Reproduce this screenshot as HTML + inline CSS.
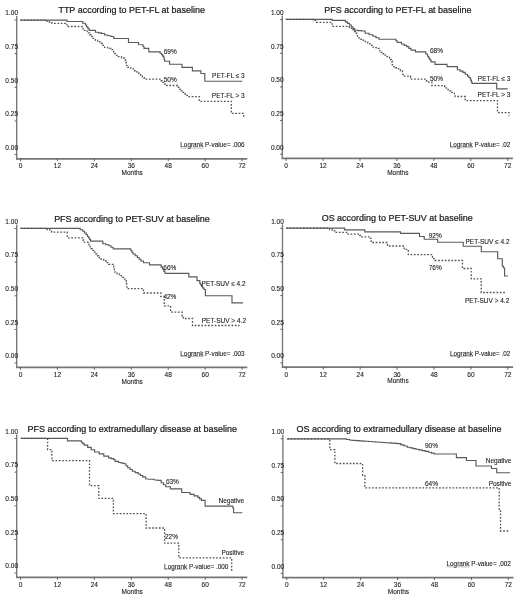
<!DOCTYPE html>
<html><head><meta charset="utf-8"><style>
html,body{margin:0;padding:0;background:#fff;width:520px;height:599px;overflow:hidden}
svg{display:block;filter:grayscale(1)}
text{font-family:"Liberation Sans", sans-serif;fill:#1a1a1a;stroke:#1a1a1a;stroke-width:0.22px}
.s{font-size:6.5px;stroke-width:0.1px}
.t{font-size:8.98px}
</style></head><body>
<svg width="520" height="599" viewBox="0 0 520 599" shape-rendering="auto">
<rect width="520" height="599" fill="#fff"/>
<path d="M16.7 16V159.4" stroke="#767676" stroke-width="1.35" fill="none"/>
<path d="M16 158.85H247.3" stroke="#767676" stroke-width="1.8" fill="none"/>
<path d="M14.5 20H16.7" stroke="#555" stroke-width="0.9"/>
<text x="18" y="15.3" text-anchor="end" class="s">1.00</text>
<path d="M14.5 53.65H16.7" stroke="#555" stroke-width="0.9"/>
<text x="18" y="48.95" text-anchor="end" class="s">0.75</text>
<path d="M14.5 87.3H16.7" stroke="#555" stroke-width="0.9"/>
<text x="18" y="82.6" text-anchor="end" class="s">0.50</text>
<path d="M14.5 120.95H16.7" stroke="#555" stroke-width="0.9"/>
<text x="18" y="116.25" text-anchor="end" class="s">0.25</text>
<path d="M14.5 154.6H16.7" stroke="#555" stroke-width="0.9"/>
<text x="18" y="149.9" text-anchor="end" class="s">0.00</text>
<path d="M20.5 158.5V161.3" stroke="#555" stroke-width="0.9"/>
<text x="20.5" y="168.4" text-anchor="middle" class="s">0</text>
<path d="M57.43 158.5V161.3" stroke="#555" stroke-width="0.9"/>
<text x="57.43" y="168.4" text-anchor="middle" class="s">12</text>
<path d="M94.36 158.5V161.3" stroke="#555" stroke-width="0.9"/>
<text x="94.36" y="168.4" text-anchor="middle" class="s">24</text>
<path d="M131.29 158.5V161.3" stroke="#555" stroke-width="0.9"/>
<text x="131.29" y="168.4" text-anchor="middle" class="s">36</text>
<path d="M168.22 158.5V161.3" stroke="#555" stroke-width="0.9"/>
<text x="168.22" y="168.4" text-anchor="middle" class="s">48</text>
<path d="M205.15 158.5V161.3" stroke="#555" stroke-width="0.9"/>
<text x="205.15" y="168.4" text-anchor="middle" class="s">60</text>
<path d="M242.08 158.5V161.3" stroke="#555" stroke-width="0.9"/>
<text x="242.08" y="168.4" text-anchor="middle" class="s">72</text>
<text x="132.2" y="175.1" text-anchor="middle" class="s">Months</text>
<text x="131.7" y="13.2" text-anchor="middle" class="t">TTP according to PET-FL at baseline</text>
<text x="180.3" y="147.3" class="s" textLength="64.3" lengthAdjust="spacingAndGlyphs">Logrank P-value= .006</text>
<path d="M180.3 148.1H203.4" stroke="#666" stroke-width="0.45"/>
<path d="M20.4 20.1 L67 20.1 L67 21.5 L80 21.5 L82.7 21.5 L82.7 23.25 L85.4 23.25 L85.4 25 L86.67 25 L86.67 26.8 L87.93 26.8 L87.93 28.6 L89.2 28.6 L89.2 30.4 L95.4 30.4 L95.4 32.2 L98.45 32.2 L98.45 32.85 L101.5 32.85 L101.5 33.5 L104.6 33.5 L104.6 35 L107.7 35 L107.7 35.75 L110.8 35.75 L110.8 36.5 L113.8 36.5 L113.8 38.5 L128.5 38.5 L128.5 42.5 L138.5 42.5 L138.5 44.5 L142 44.7 L143 44.7 L143 46.5 L144 46.5 L144 48.3 L148.8 48.3 L148.8 51.9 L158.8 51.9 L160.15 51.9 L160.15 53.25 L161.5 53.25 L161.5 54.6 L162.65 54.6 L162.65 56.15 L163.8 56.15 L163.8 57.7 L164.2 57.7 L164.2 59.45 L164.6 59.45 L164.6 61.2 L169.6 61.2 L169.6 64.2 L182 64.2 L182 67.3 L192.4 67.3 L192.4 70.9 L200.9 70.9 L200.9 73.5 L204.8 73.5 L204.8 81.2 L242.3 81.2" stroke="#5a5a5a" stroke-width="1.15" fill="none"/>
<path d="M20.4 20.1 L47 20.1 L47 22 L52 22 L52 23.3 L67 23.3 L67 26.5 L81 26.5 L82 26.5 L82 28.45 L83 28.45 L83 30.4 L87 30.4 L87 31.2 L88.27 31.2 L88.27 32.97 L89.53 32.97 L89.53 34.73 L90.8 34.73 L90.8 36.5 L93.1 36.5 L93.1 38.45 L95.4 38.45 L95.4 40.4 L97.7 40.4 L97.7 41.95 L100 41.95 L100 43.5 L102.3 43.5 L102.3 45.4 L104.6 45.4 L104.6 47.3 L107.7 47.3 L107.7 48.45 L110.8 48.45 L110.8 49.6 L113.8 49.6 L113.8 52 L114.6 52 L114.6 53.65 L115.4 53.65 L115.4 55.3 L118.45 55.3 L118.45 56.65 L121.5 56.65 L121.5 58 L125.4 58 L125.4 60.4 L125.8 60.4 L125.8 62.12 L126.2 62.12 L126.2 63.85 L126.6 63.85 L126.6 65.58 L127 65.58 L127 67.3 L129.65 67.3 L129.65 68.05 L132.3 68.05 L132.3 68.8 L134.65 68.8 L134.65 70.75 L137 70.75 L137 72.7 L138.8 72.7 L138.8 74.33 L140.6 74.33 L140.6 75.95 L142.4 75.95 L142.4 77.58 L144.2 77.58 L144.2 79.2 L160 79.2 L161 79.2 L161 80.75 L162 80.75 L162 82.3 L163.5 82.3 L163.5 83.9 L165 83.9 L165 85.5 L177 85.5 L178.33 85.5 L178.33 87.27 L179.67 87.27 L179.67 89.03 L181 89.03 L181 90.8 L183 90.8 L183 92.4 L185 92.4 L185 94 L187 94 L187 95.35 L189 95.35 L189 96.7 L199.2 96.7 L199.2 101.3 L231.3 101.3 L231.3 113.4 L243.7 113.4 L243.7 117.4" stroke="#525252" stroke-width="1.3" fill="none" stroke-dasharray="1.7 1.65"/>
<text x="163.7" y="53.5" text-anchor="start" class="s">69%</text>
<text x="163.7" y="81.6" text-anchor="start" class="s">50%</text>
<text x="244.7" y="78.4" text-anchor="end" class="s">PET-FL ≤ 3</text>
<text x="244.7" y="98.4" text-anchor="end" class="s">PET-FL > 3</text>
<path d="M282.3 15.6V159" stroke="#767676" stroke-width="1.35" fill="none"/>
<path d="M281.6 158.45H512.9" stroke="#767676" stroke-width="1.8" fill="none"/>
<path d="M280.1 19.6H282.3" stroke="#555" stroke-width="0.9"/>
<text x="283.6" y="14.9" text-anchor="end" class="s">1.00</text>
<path d="M280.1 53.25H282.3" stroke="#555" stroke-width="0.9"/>
<text x="283.6" y="48.55" text-anchor="end" class="s">0.75</text>
<path d="M280.1 86.9H282.3" stroke="#555" stroke-width="0.9"/>
<text x="283.6" y="82.2" text-anchor="end" class="s">0.50</text>
<path d="M280.1 120.55H282.3" stroke="#555" stroke-width="0.9"/>
<text x="283.6" y="115.85" text-anchor="end" class="s">0.25</text>
<path d="M280.1 154.2H282.3" stroke="#555" stroke-width="0.9"/>
<text x="283.6" y="149.5" text-anchor="end" class="s">0.00</text>
<path d="M286.1 158.1V160.9" stroke="#555" stroke-width="0.9"/>
<text x="286.1" y="168" text-anchor="middle" class="s">0</text>
<path d="M323.03 158.1V160.9" stroke="#555" stroke-width="0.9"/>
<text x="323.03" y="168" text-anchor="middle" class="s">12</text>
<path d="M359.96 158.1V160.9" stroke="#555" stroke-width="0.9"/>
<text x="359.96" y="168" text-anchor="middle" class="s">24</text>
<path d="M396.89 158.1V160.9" stroke="#555" stroke-width="0.9"/>
<text x="396.89" y="168" text-anchor="middle" class="s">36</text>
<path d="M433.82 158.1V160.9" stroke="#555" stroke-width="0.9"/>
<text x="433.82" y="168" text-anchor="middle" class="s">48</text>
<path d="M470.75 158.1V160.9" stroke="#555" stroke-width="0.9"/>
<text x="470.75" y="168" text-anchor="middle" class="s">60</text>
<path d="M507.68 158.1V160.9" stroke="#555" stroke-width="0.9"/>
<text x="507.68" y="168" text-anchor="middle" class="s">72</text>
<text x="397.8" y="174.7" text-anchor="middle" class="s">Months</text>
<text x="397.9" y="12.7" text-anchor="middle" class="t">PFS according to PET-FL at baseline</text>
<text x="449.8" y="146.9" class="s" textLength="60.4" lengthAdjust="spacingAndGlyphs">Logrank P-value= .02</text>
<path d="M449.8 147.7H472.9" stroke="#666" stroke-width="0.45"/>
<path d="M285.8 19.3 L332.2 19.3 L332.2 20.3 L343.4 20.3 L345.43 20.3 L345.43 21.87 L347.47 21.87 L347.47 23.43 L349.5 23.43 L349.5 25 L351.23 25 L351.23 26.73 L352.97 26.73 L352.97 28.47 L354.7 28.47 L354.7 30.2 L358.15 30.2 L358.15 30.6 L361.6 30.6 L361.6 31 L365.2 31 L365.2 33.2 L369.1 33.2 L369.1 34.7 L373 34.7 L373 36.2 L376 36.2 L376 37.7 L379 37.7 L379 39.2 L394.6 39.2 L395.9 39.2 L395.9 40.75 L397.2 40.75 L397.2 42.3 L401.5 42.3 L401.5 44 L404.1 44 L404.1 45.3 L406.7 45.3 L406.7 46.6 L408.85 46.6 L408.85 48.35 L411 48.35 L411 50.1 L415.4 50.1 L415.4 51.8 L424 51.8 L425.75 51.8 L425.75 54 L427.5 54 L427.5 56.2 L428.67 56.2 L428.67 58.07 L429.83 58.07 L429.83 59.93 L431 59.93 L431 61.8 L435 61.8 L435 64.3 L447 64.3 L447 66.6 L457.4 66.6 L457.4 69.7 L460.15 69.7 L460.15 71.05 L462.9 71.05 L462.9 72.4 L465.2 72.4 L465.2 74.25 L467.5 74.25 L467.5 76.1 L468.85 76.1 L468.85 77.45 L470.2 77.45 L470.2 78.8 L470.8 78.8 L470.8 80.33 L471.4 80.33 L471.4 81.87 L472 81.87 L472 83.4 L496.7 83.4 L496.7 88.8 L507.7 88.8" stroke="#5a5a5a" stroke-width="1.15" fill="none"/>
<path d="M285.8 19.3 L313.2 19.3 L313.2 20.7 L316.6 20.7 L316.6 22.4 L332.2 22.4 L332.2 26.3 L347 26.3 L349.27 26.3 L349.27 28.03 L351.53 28.03 L351.53 29.77 L353.8 29.77 L353.8 31.5 L355.55 31.5 L355.55 33.25 L357.3 33.25 L357.3 35 L357.9 37.9 L360.45 37.9 L360.45 39.05 L363 39.05 L363 40.2 L365.35 40.2 L365.35 41.95 L367.7 41.95 L367.7 43.7 L370 43.7 L370 45.4 L372.3 45.4 L372.3 47.1 L375.15 47.1 L375.15 47.7 L378 47.7 L378 48.3 L378.9 48.3 L378.9 50.3 L379.8 50.3 L379.8 52.3 L382.1 52.3 L382.1 53.75 L384.4 53.75 L384.4 55.2 L387 55.2 L387 56.6 L389.6 56.6 L389.6 58 L390.75 58 L390.75 59.5 L391.9 59.5 L391.9 61 L392.1 61 L392.1 62.9 L392.3 62.9 L392.3 64.8 L392.5 64.8 L392.5 66.7 L395.5 66.7 L395.5 67.75 L398.5 67.75 L398.5 68.8 L400.5 68.8 L400.5 70.85 L402.5 70.85 L402.5 72.9 L402.8 72.9 L402.8 74.5 L403.1 74.5 L403.1 76.1 L410.6 76.1 L410.6 79.2 L425.6 79.2 L426.15 79.2 L426.15 80.65 L426.7 80.65 L426.7 82.1 L431.9 82.1 L431.9 85.6 L442.3 85.6 L444.6 85.6 L444.6 87.9 L446.35 87.9 L446.35 89.35 L448.1 89.35 L448.1 90.8 L451 90.8 L451 92.3 L453.7 92.5 L454.4 92.5 L454.4 94.5 L455.1 94.5 L455.1 96.5 L465.2 96.5 L465.2 100.6 L497.5 100.6 L497.5 112.7 L508.9 112.7 L508.9 116" stroke="#525252" stroke-width="1.3" fill="none" stroke-dasharray="1.7 1.65"/>
<text x="430" y="53" text-anchor="start" class="s">68%</text>
<text x="430" y="80.7" text-anchor="start" class="s">50%</text>
<text x="510.4" y="81.2" text-anchor="end" class="s">PET-FL ≤ 3</text>
<text x="510.4" y="97.1" text-anchor="end" class="s">PET-FL > 3</text>
<path d="M16.7 224.5V367.9" stroke="#767676" stroke-width="1.35" fill="none"/>
<path d="M16 367.35H247.3" stroke="#767676" stroke-width="1.8" fill="none"/>
<path d="M14.5 228.5H16.7" stroke="#555" stroke-width="0.9"/>
<text x="18" y="223.8" text-anchor="end" class="s">1.00</text>
<path d="M14.5 262.15H16.7" stroke="#555" stroke-width="0.9"/>
<text x="18" y="257.45" text-anchor="end" class="s">0.75</text>
<path d="M14.5 295.8H16.7" stroke="#555" stroke-width="0.9"/>
<text x="18" y="291.1" text-anchor="end" class="s">0.50</text>
<path d="M14.5 329.45H16.7" stroke="#555" stroke-width="0.9"/>
<text x="18" y="324.75" text-anchor="end" class="s">0.25</text>
<path d="M14.5 363.1H16.7" stroke="#555" stroke-width="0.9"/>
<text x="18" y="358.4" text-anchor="end" class="s">0.00</text>
<path d="M20.5 367V369.8" stroke="#555" stroke-width="0.9"/>
<text x="20.5" y="376.9" text-anchor="middle" class="s">0</text>
<path d="M57.43 367V369.8" stroke="#555" stroke-width="0.9"/>
<text x="57.43" y="376.9" text-anchor="middle" class="s">12</text>
<path d="M94.36 367V369.8" stroke="#555" stroke-width="0.9"/>
<text x="94.36" y="376.9" text-anchor="middle" class="s">24</text>
<path d="M131.29 367V369.8" stroke="#555" stroke-width="0.9"/>
<text x="131.29" y="376.9" text-anchor="middle" class="s">36</text>
<path d="M168.22 367V369.8" stroke="#555" stroke-width="0.9"/>
<text x="168.22" y="376.9" text-anchor="middle" class="s">48</text>
<path d="M205.15 367V369.8" stroke="#555" stroke-width="0.9"/>
<text x="205.15" y="376.9" text-anchor="middle" class="s">60</text>
<path d="M242.08 367V369.8" stroke="#555" stroke-width="0.9"/>
<text x="242.08" y="376.9" text-anchor="middle" class="s">72</text>
<text x="132.2" y="383.6" text-anchor="middle" class="s">Months</text>
<text x="131.9" y="221.5" text-anchor="middle" class="t">PFS according to PET-SUV at baseline</text>
<text x="180.3" y="355.8" class="s" textLength="64.3" lengthAdjust="spacingAndGlyphs">Logrank P-value= .003</text>
<path d="M180.3 356.6H203.4" stroke="#666" stroke-width="0.45"/>
<path d="M20.5 228.3 L77.6 228.3 L80.2 228.3 L80.2 229.75 L82.8 229.75 L82.8 231.2 L84.5 231.2 L84.5 232.95 L86.2 232.95 L86.2 234.7 L87.5 234.7 L87.5 236.45 L88.8 236.45 L88.8 238.2 L89.7 238.2 L89.7 239.65 L90.6 239.65 L90.6 241.1 L101.8 241.1 L102.8 241.1 L102.8 243.7 L105.8 243.7 L105.8 244.7 L108.8 244.7 L108.8 245.7 L111 245.7 L111 247.25 L113.2 247.25 L113.2 248.8 L129.6 248.8 L130.73 248.8 L130.73 250.53 L131.87 250.53 L131.87 252.27 L133 252.27 L133 254 L135.2 254 L135.2 255.75 L137.4 255.75 L137.4 257.5 L139.15 257.5 L139.15 259.25 L140.9 259.25 L140.9 261 L143.5 261 L143.5 262.7 L149.5 262.7 L149.5 264.8 L159.9 264.8 L161.15 264.8 L161.15 266.9 L162.4 266.9 L162.4 269 L163.7 269 L163.7 271.15 L165 271.15 L165 273.3 L188.8 273.3 L188.8 276.9 L197 276.9 L197 280.6 L199.8 280.6 L199.8 283.3 L200.7 283.3 L200.7 284.83 L201.6 284.83 L201.6 286.37 L202.5 286.37 L202.5 287.9 L203.95 287.9 L203.95 289.45 L205.4 289.45 L205.4 291 L205.4 295.7 L232 295.7 L232 302.9 L243 302.9" stroke="#5a5a5a" stroke-width="1.15" fill="none"/>
<path d="M20.5 228.3 L47.3 228.3 L47.3 229.9 L51.6 229.9 L51.6 232.1 L67.2 232.1 L67.2 237.8 L81.9 237.8 L82.75 237.8 L82.75 240 L83.6 240 L83.6 242.2 L88 242.2 L88 243.4 L89.08 243.4 L89.08 245.12 L90.15 245.12 L90.15 246.85 L91.22 246.85 L91.22 248.58 L92.3 248.58 L92.3 250.3 L93.65 250.3 L93.65 252.15 L95 252.15 L95 254 L96.75 254 L96.75 255.75 L98.5 255.75 L98.5 257.5 L101.1 257.5 L101.1 259.25 L103.7 259.25 L103.7 261 L106.25 261 L106.25 262.7 L108.8 262.7 L108.8 264.4 L113.2 264.4 L113.2 266.2 L113.77 266.2 L113.77 268.2 L114.33 268.2 L114.33 270.2 L114.9 270.2 L114.9 272.2 L117.05 272.2 L117.05 273.95 L119.2 273.95 L119.2 275.7 L121.4 275.7 L121.4 277.4 L123.6 277.4 L123.6 279.1 L126.2 279.1 L126.2 281.7 L126.4 281.7 L126.4 283.45 L126.6 283.45 L126.6 285.2 L126.8 285.2 L126.8 286.95 L127 286.95 L127 288.7 L143.5 288.7 L143.5 293 L160.8 293 L160.8 296.5 L164.2 296.5 L164.2 305.8 L167.1 305.8 L170.6 305.8 L170.6 308.1 L170.6 312.1 L182.1 312.1 L182.1 316.2 L183.3 316.2 L183.3 318.5 L192.5 318.5 L192.5 325.5 L239.6 325.5" stroke="#525252" stroke-width="1.3" fill="none" stroke-dasharray="1.7 1.65"/>
<text x="163.3" y="270.1" text-anchor="start" class="s">66%</text>
<text x="163.4" y="299.2" text-anchor="start" class="s">42%</text>
<text x="245.6" y="285.7" text-anchor="end" class="s">PET-SUV ≤ 4.2</text>
<text x="246" y="323.3" text-anchor="end" class="s">PET-SUV > 4.2</text>
<path d="M282.5 224.3V367.7" stroke="#767676" stroke-width="1.35" fill="none"/>
<path d="M281.8 367.15H513.1" stroke="#767676" stroke-width="1.8" fill="none"/>
<path d="M280.3 228.3H282.5" stroke="#555" stroke-width="0.9"/>
<text x="283.8" y="223.6" text-anchor="end" class="s">1.00</text>
<path d="M280.3 261.95H282.5" stroke="#555" stroke-width="0.9"/>
<text x="283.8" y="257.25" text-anchor="end" class="s">0.75</text>
<path d="M280.3 295.6H282.5" stroke="#555" stroke-width="0.9"/>
<text x="283.8" y="290.9" text-anchor="end" class="s">0.50</text>
<path d="M280.3 329.25H282.5" stroke="#555" stroke-width="0.9"/>
<text x="283.8" y="324.55" text-anchor="end" class="s">0.25</text>
<path d="M280.3 362.9H282.5" stroke="#555" stroke-width="0.9"/>
<text x="283.8" y="358.2" text-anchor="end" class="s">0.00</text>
<path d="M286.3 366.8V369.6" stroke="#555" stroke-width="0.9"/>
<text x="286.3" y="376.7" text-anchor="middle" class="s">0</text>
<path d="M323.23 366.8V369.6" stroke="#555" stroke-width="0.9"/>
<text x="323.23" y="376.7" text-anchor="middle" class="s">12</text>
<path d="M360.16 366.8V369.6" stroke="#555" stroke-width="0.9"/>
<text x="360.16" y="376.7" text-anchor="middle" class="s">24</text>
<path d="M397.09 366.8V369.6" stroke="#555" stroke-width="0.9"/>
<text x="397.09" y="376.7" text-anchor="middle" class="s">36</text>
<path d="M434.02 366.8V369.6" stroke="#555" stroke-width="0.9"/>
<text x="434.02" y="376.7" text-anchor="middle" class="s">48</text>
<path d="M470.95 366.8V369.6" stroke="#555" stroke-width="0.9"/>
<text x="470.95" y="376.7" text-anchor="middle" class="s">60</text>
<path d="M507.88 366.8V369.6" stroke="#555" stroke-width="0.9"/>
<text x="507.88" y="376.7" text-anchor="middle" class="s">72</text>
<text x="398" y="383.4" text-anchor="middle" class="s">Months</text>
<text x="397.2" y="221.4" text-anchor="middle" class="t">OS according to PET-SUV at baseline</text>
<text x="450" y="355.6" class="s" textLength="60.4" lengthAdjust="spacingAndGlyphs">Logrank P-value= .02</text>
<path d="M450 356.4H473.1" stroke="#666" stroke-width="0.45"/>
<path d="M286.2 228.1 L344.6 228.1 L344.6 229.8 L364.8 229.8 L364.8 231.8 L400.5 231.8 L400.5 233.4 L419.5 233.4 L419.5 236.5 L424.2 236.5 L424.2 239.2 L437.7 239.2 L437.7 242.2 L463.2 242.2 L463.2 246.2 L481.3 246.2 L481.3 251.7 L497.7 251.7 L497.7 258.7 L502.3 258.7 L502.3 266.2 L503.5 266.2 L503.5 268 L504.6 268 L504.6 276 L508 276" stroke="#5a5a5a" stroke-width="1.15" fill="none"/>
<path d="M286.2 228.1 L329.6 228.1 L329.6 229.5 L332.2 229.5 L332.2 230.95 L334.8 230.95 L334.8 232.4 L348.1 232.4 L348.1 234.1 L358.5 234.1 L359.65 234.1 L359.65 235.45 L360.8 235.45 L360.8 236.8 L366.5 236.8 L368.85 236.8 L368.85 238.35 L371.2 238.35 L371.2 239.9 L371.2 242.5 L387.5 242.5 L387.5 246 L404.2 246 L404.2 249.4 L408.3 249.4 L408.3 254.6 L432.5 254.6 L432.5 258.7 L435 258.7 L435 260.5 L462.5 260.5 L462.5 268.5 L471.2 268.5 L471.2 278.8 L481.2 278.8 L481.2 292.5 L505 292.5" stroke="#525252" stroke-width="1.3" fill="none" stroke-dasharray="1.7 1.65"/>
<text x="428.7" y="237.9" text-anchor="start" class="s">92%</text>
<text x="428.7" y="270" text-anchor="start" class="s">76%</text>
<text x="509.5" y="244.1" text-anchor="end" class="s">PET-SUV ≤ 4.2</text>
<text x="509.3" y="303.3" text-anchor="end" class="s">PET-SUV > 4.2</text>
<path d="M16.7 434.5V577.9" stroke="#767676" stroke-width="1.35" fill="none"/>
<path d="M16 577.35H247.3" stroke="#767676" stroke-width="1.8" fill="none"/>
<path d="M14.5 438.5H16.7" stroke="#555" stroke-width="0.9"/>
<text x="18" y="433.8" text-anchor="end" class="s">1.00</text>
<path d="M14.5 472.15H16.7" stroke="#555" stroke-width="0.9"/>
<text x="18" y="467.45" text-anchor="end" class="s">0.75</text>
<path d="M14.5 505.8H16.7" stroke="#555" stroke-width="0.9"/>
<text x="18" y="501.1" text-anchor="end" class="s">0.50</text>
<path d="M14.5 539.45H16.7" stroke="#555" stroke-width="0.9"/>
<text x="18" y="534.75" text-anchor="end" class="s">0.25</text>
<path d="M14.5 573.1H16.7" stroke="#555" stroke-width="0.9"/>
<text x="18" y="568.4" text-anchor="end" class="s">0.00</text>
<path d="M20.5 577V579.8" stroke="#555" stroke-width="0.9"/>
<text x="20.5" y="586.9" text-anchor="middle" class="s">0</text>
<path d="M57.43 577V579.8" stroke="#555" stroke-width="0.9"/>
<text x="57.43" y="586.9" text-anchor="middle" class="s">12</text>
<path d="M94.36 577V579.8" stroke="#555" stroke-width="0.9"/>
<text x="94.36" y="586.9" text-anchor="middle" class="s">24</text>
<path d="M131.29 577V579.8" stroke="#555" stroke-width="0.9"/>
<text x="131.29" y="586.9" text-anchor="middle" class="s">36</text>
<path d="M168.22 577V579.8" stroke="#555" stroke-width="0.9"/>
<text x="168.22" y="586.9" text-anchor="middle" class="s">48</text>
<path d="M205.15 577V579.8" stroke="#555" stroke-width="0.9"/>
<text x="205.15" y="586.9" text-anchor="middle" class="s">60</text>
<path d="M242.08 577V579.8" stroke="#555" stroke-width="0.9"/>
<text x="242.08" y="586.9" text-anchor="middle" class="s">72</text>
<text x="132.2" y="593.6" text-anchor="middle" class="s">Months</text>
<text x="132.2" y="431.7" text-anchor="middle" class="t">PFS according to extramedullary disease at baseline</text>
<text x="164.1" y="568.6" class="s" textLength="64.3" lengthAdjust="spacingAndGlyphs">Logrank P-value= .000</text>
<path d="M164.1 569.4H187.2" stroke="#666" stroke-width="0.45"/>
<path d="M20.8 438.3 L67.5 438.3 L67.5 440.8 L77.9 440.8 L81.3 440.8 L81.3 442.2 L82.75 442.2 L82.75 443.65 L84.2 443.65 L84.2 445.1 L87.7 445.1 L87.7 447.4 L91.2 447.4 L91.2 449.7 L94.6 449.7 L94.6 452 L99.2 452 L99.2 453.8 L103.8 453.8 L103.8 456.1 L108.5 456.1 L108.5 457.8 L111.1 457.8 L111.1 458.65 L113.7 458.65 L113.7 459.5 L115 459.5 L115 461.3 L118.5 461.3 L118.5 462.5 L121.35 462.5 L121.35 463.1 L124.2 463.1 L124.2 463.7 L125.95 463.7 L125.95 465.7 L127.7 465.7 L127.7 467.7 L130 467.7 L130 469.45 L132.3 469.45 L132.3 471.2 L135.2 471.2 L135.2 472.6 L138.1 472.6 L138.1 474 L140.4 474 L140.4 475.45 L142.7 475.45 L142.7 476.9 L145.6 476.9 L145.6 478.7 L149.6 479.2 L154.2 479.2 L154.2 479.8 L158.8 480.4 L161.2 480.4 L161.2 482.7 L163.5 482.7 L163.5 484.7 L165.8 484.7 L165.8 486.7 L170.4 486.7 L170.4 488.8 L181.7 488.8 L181.7 492.5 L189 492.5 L190 492.5 L190 494.4 L194.1 494.4 L194.1 495.9 L197.8 495.9 L197.8 497.4 L199.6 497.4 L199.6 498.85 L201.4 498.85 L201.4 500.3 L205.1 500.3 L205.1 502.5 L205.1 506.1 L232.1 506.1 L232.85 506.1 L232.85 507.95 L233.6 507.95 L233.6 509.8 L233.6 512.7 L242.4 512.7" stroke="#5a5a5a" stroke-width="1.15" fill="none"/>
<path d="M20.8 438.3 L47.6 438.3 L47.6 449.6 L51.9 449.6 L51.9 460.6 L89.5 460.6 L89.5 485.7 L98.8 485.7 L98.8 498.4 L113.4 498.4 L113.4 513.6 L146.1 513.6 L146.1 528 L164.6 528 L164.6 543.2 L178.8 543.2 L178.8 557.9 L231.7 557.9 L231.7 571.3" stroke="#525252" stroke-width="1.3" fill="none" stroke-dasharray="1.7 1.65"/>
<text x="165.9" y="484.3" text-anchor="start" class="s">63%</text>
<text x="165" y="538.9" text-anchor="start" class="s">22%</text>
<text x="244.2" y="502.6" text-anchor="end" class="s">Negative</text>
<text x="244.2" y="555.1" text-anchor="end" class="s">Positive</text>
<path d="M282.9 434.8V578.2" stroke="#767676" stroke-width="1.35" fill="none"/>
<path d="M282.2 577.65H513.5" stroke="#767676" stroke-width="1.8" fill="none"/>
<path d="M280.7 438.8H282.9" stroke="#555" stroke-width="0.9"/>
<text x="284.2" y="434.1" text-anchor="end" class="s">1.00</text>
<path d="M280.7 472.45H282.9" stroke="#555" stroke-width="0.9"/>
<text x="284.2" y="467.75" text-anchor="end" class="s">0.75</text>
<path d="M280.7 506.1H282.9" stroke="#555" stroke-width="0.9"/>
<text x="284.2" y="501.4" text-anchor="end" class="s">0.50</text>
<path d="M280.7 539.75H282.9" stroke="#555" stroke-width="0.9"/>
<text x="284.2" y="535.05" text-anchor="end" class="s">0.25</text>
<path d="M280.7 573.4H282.9" stroke="#555" stroke-width="0.9"/>
<text x="284.2" y="568.7" text-anchor="end" class="s">0.00</text>
<path d="M286.7 577.3V580.1" stroke="#555" stroke-width="0.9"/>
<text x="286.7" y="587.2" text-anchor="middle" class="s">0</text>
<path d="M323.63 577.3V580.1" stroke="#555" stroke-width="0.9"/>
<text x="323.63" y="587.2" text-anchor="middle" class="s">12</text>
<path d="M360.56 577.3V580.1" stroke="#555" stroke-width="0.9"/>
<text x="360.56" y="587.2" text-anchor="middle" class="s">24</text>
<path d="M397.49 577.3V580.1" stroke="#555" stroke-width="0.9"/>
<text x="397.49" y="587.2" text-anchor="middle" class="s">36</text>
<path d="M434.42 577.3V580.1" stroke="#555" stroke-width="0.9"/>
<text x="434.42" y="587.2" text-anchor="middle" class="s">48</text>
<path d="M471.35 577.3V580.1" stroke="#555" stroke-width="0.9"/>
<text x="471.35" y="587.2" text-anchor="middle" class="s">60</text>
<path d="M508.28 577.3V580.1" stroke="#555" stroke-width="0.9"/>
<text x="508.28" y="587.2" text-anchor="middle" class="s">72</text>
<text x="398.4" y="593.9" text-anchor="middle" class="s">Months</text>
<text x="399" y="431.8" text-anchor="middle" class="t">OS according to extramedullary disease at baseline</text>
<text x="446.5" y="566.1" class="s" textLength="64.3" lengthAdjust="spacingAndGlyphs">Logrank P-value= .002</text>
<path d="M446.5 566.9H469.6" stroke="#666" stroke-width="0.45"/>
<path d="M287.2 438.8 L343 438.8 L346.45 438.8 L346.45 439.5 L349.9 439.5 L349.9 440.2 L352.98 440.2 L352.98 440.42 L356.07 440.42 L356.07 440.63 L359.15 440.63 L359.15 440.85 L362.23 440.85 L362.23 441.07 L365.32 441.07 L365.32 441.28 L368.4 441.28 L368.4 441.5 L371.85 441.5 L371.85 441.75 L375.3 441.75 L375.3 442 L378.75 442 L378.75 442.25 L382.2 442.25 L382.2 442.5 L385.3 442.5 L385.3 442.72 L388.4 442.72 L388.4 442.94 L391.5 442.94 L391.5 443.16 L394.6 443.16 L394.6 443.38 L397.7 443.38 L397.7 443.6 L400.9 443.6 L400.9 444.8 L404.1 444.8 L404.1 446 L407.3 446 L407.3 447.2 L410.18 447.2 L410.18 447.88 L413.05 447.88 L413.05 448.55 L415.93 448.55 L415.93 449.22 L418.8 449.22 L418.8 449.9 L422.03 449.9 L422.03 450.67 L425.27 450.67 L425.27 451.43 L428.5 451.43 L428.5 452.2 L431.35 452.2 L431.35 453.1 L434.2 453.1 L434.2 454 L456.4 454 L456.4 457.6 L466.4 457.6 L466.4 460.5 L476 460.5 L476 466 L491.5 466 L491.5 468.5 L496.7 468.5 L496.7 472.7 L510 472.7" stroke="#5a5a5a" stroke-width="1.15" fill="none"/>
<path d="M287.2 438.8 L329.8 438.8 L329.8 449.6 L334.9 449.6 L334.9 463.5 L362.6 463.5 L362.6 475 L364.9 475 L364.9 487.9 L499.2 487.9 L499.2 510 L500.5 510 L500.5 531 L509.5 531" stroke="#525252" stroke-width="1.3" fill="none" stroke-dasharray="1.7 1.65"/>
<text x="425" y="447.9" text-anchor="start" class="s">90%</text>
<text x="425" y="486.4" text-anchor="start" class="s">64%</text>
<text x="511.4" y="463.4" text-anchor="end" class="s">Negative</text>
<text x="511.4" y="486" text-anchor="end" class="s">Positive</text>
</svg>
</body></html>
